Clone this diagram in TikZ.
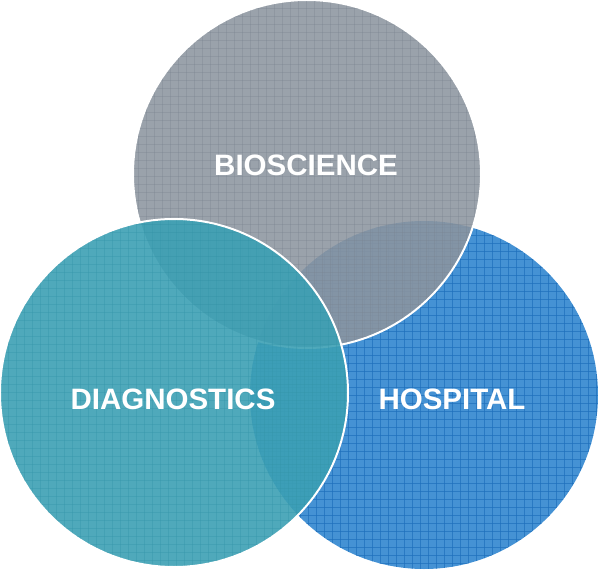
\documentclass[tikz,border=0pt]{standalone}
\usepackage{fontspec}
\setmainfont{Liberation Sans}
\definecolor{bioC}{HTML}{8C959F}
\definecolor{diaC}{HTML}{3CA0B4}
\definecolor{hosC}{HTML}{4592D4}
\definecolor{hosL}{HTML}{1F70BC}
\definecolor{bioL}{HTML}{7A8591}
\definecolor{diaL}{HTML}{3394A8}
\tikzset{
  venn/.style={circle, minimum size=348pt, inner sep=0pt},
  lbl/.style={text=white, font=\fontsize{29.5}{29.5}\selectfont\bfseries, inner sep=0pt},
}
\begin{document}
\begin{tikzpicture}[x=1pt,y=-1pt]
\useasboundingbox (0,0) rectangle (598,570);
% Hospital (bottom layer)
\node[venn, fill=hosC] (hos) at (424,395) {};
\begin{scope}
  \clip (424,395) circle (174);
  \foreach \k in {0,8,...,368} {
    \draw[hosL, line width=0.9pt, opacity=0.7] (244+\k,215) -- (244+\k,575);
    \draw[hosL, line width=0.9pt, opacity=0.7] (245,219+\k) -- (605,219+\k);
  }
\end{scope}
% Bioscience
\node[venn, fill=bioC, fill opacity=0.88, draw=white, line width=2pt] (bio) at (307,174) {};
\begin{scope}
  \clip (307,174) circle (173);
  \foreach \k in {0,8,...,352} {
    \draw[bioL, line width=0.6pt, opacity=0.35] (130+\k,0) -- (130+\k,350);
    \draw[bioL, line width=0.6pt, opacity=0.35] (130,\k) -- (485,\k);
  }
\end{scope}
% Diagnostics (top layer)
\node[venn, fill=diaC, fill opacity=0.9, draw=white, line width=2pt] (dia) at (174,393) {};
\begin{scope}
  \clip (174,393) circle (173);
  \foreach \k in {0,8,...,352} {
    \draw[diaL, line width=0.6pt, opacity=0.35] (\k,215) -- (\k,570);
    \draw[diaL, line width=0.6pt, opacity=0.35] (0,216+\k) -- (350,216+\k);
  }
\end{scope}
% labels
\node[lbl] (tbio) at (306,165) {BIOSCIENCE};
\node[lbl] (tdia) at (173,399) {DIAGNOSTICS};
\node[lbl] (thos) at (452,399) {HOSPITAL};
\end{tikzpicture}
\end{document}
